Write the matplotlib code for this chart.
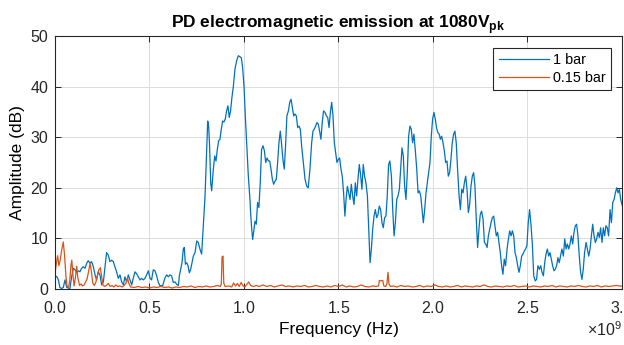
import matplotlib
matplotlib.use("Agg")
import matplotlib.pyplot as plt
from matplotlib.ticker import ScalarFormatter

plt.rcParams.update({
    'font.family': ['Liberation Sans', 'DejaVu Sans'],
    'mathtext.fontset': 'custom',
    'mathtext.rm': 'Liberation Sans',
    'mathtext.bf': 'Liberation Sans:bold',
    'axes.edgecolor': '#262626',
    'axes.linewidth': 0.8,
    'xtick.color': '#262626',
    'ytick.color': '#262626',
    'text.color': '#000000',
})

# spectrum at 1 bar: frequency (GHz) / amplitude (dB)
freq_1bar = [
    0.000, 0.009, 0.018, 0.026, 0.035, 0.044, 0.053, 0.062, 0.079, 0.088,
    0.097, 0.106, 0.115, 0.123, 0.132, 0.141, 0.150, 0.159, 0.168, 0.176,
    0.185, 0.194, 0.203, 0.212, 0.220, 0.229, 0.238, 0.247, 0.256, 0.265,
    0.273, 0.282, 0.291, 0.300, 0.309, 0.317, 0.326, 0.335, 0.344, 0.353,
    0.362, 0.370, 0.379, 0.388, 0.397, 0.406, 0.414, 0.423, 0.432, 0.441,
    0.450, 0.459, 0.467, 0.476, 0.485, 0.494, 0.503, 0.511, 0.520, 0.529,
    0.538, 0.547, 0.556, 0.570, 0.582, 0.591, 0.600, 0.608, 0.617, 0.626,
    0.635, 0.644, 0.653, 0.658, 0.665, 0.672, 0.679, 0.684, 0.690, 0.697,
    0.704, 0.711, 0.718, 0.725, 0.732, 0.741, 0.750, 0.758, 0.767, 0.776,
    0.785, 0.794, 0.802, 0.808, 0.813, 0.818, 0.824, 0.829, 0.838, 0.845,
    0.852, 0.859, 0.866, 0.873, 0.880, 0.887, 0.894, 0.901, 0.908, 0.915,
    0.922, 0.929, 0.936, 0.944, 0.952, 0.961, 0.970, 0.979, 0.986, 0.993,
    1.000, 1.007, 1.014, 1.023, 1.032, 1.035, 1.041, 1.046, 1.053, 1.058,
    1.065, 1.072, 1.079, 1.086, 1.093, 1.101, 1.108, 1.115, 1.122, 1.129,
    1.136, 1.143, 1.150, 1.157, 1.164, 1.171, 1.178, 1.185, 1.192, 1.199,
    1.206, 1.213, 1.220, 1.227, 1.235, 1.242, 1.249, 1.256, 1.263, 1.270,
    1.277, 1.284, 1.291, 1.298, 1.305, 1.314, 1.323, 1.332, 1.340, 1.349,
    1.358, 1.365, 1.372, 1.379, 1.386, 1.393, 1.400, 1.407, 1.414, 1.421,
    1.429, 1.436, 1.443, 1.450, 1.457, 1.464, 1.471, 1.478, 1.485, 1.492,
    1.499, 1.506, 1.513, 1.520, 1.527, 1.534, 1.540, 1.547, 1.554, 1.561,
    1.568, 1.575, 1.582, 1.589, 1.596, 1.603, 1.610, 1.617, 1.624, 1.631,
    1.638, 1.645, 1.653, 1.660, 1.667, 1.674, 1.681, 1.688, 1.695, 1.702,
    1.709, 1.716, 1.723, 1.730, 1.737, 1.744, 1.751, 1.758, 1.765, 1.772,
    1.780, 1.787, 1.794, 1.801, 1.808, 1.815, 1.822, 1.829, 1.836, 1.843,
    1.850, 1.857, 1.864, 1.871, 1.878, 1.885, 1.892, 1.899, 1.906, 1.914,
    1.921, 1.928, 1.935, 1.942, 1.949, 1.956, 1.963, 1.970, 1.977, 1.984,
    1.991, 1.998, 2.005, 2.012, 2.019, 2.026, 2.033, 2.039, 2.046, 2.053,
    2.060, 2.067, 2.074, 2.081, 2.088, 2.095, 2.102, 2.109, 2.116, 2.123,
    2.130, 2.138, 2.145, 2.152, 2.159, 2.166, 2.173, 2.180, 2.187, 2.194,
    2.201, 2.208, 2.215, 2.222, 2.229, 2.236, 2.243, 2.250, 2.257, 2.265,
    2.272, 2.279, 2.286, 2.293, 2.300, 2.307, 2.314, 2.321, 2.328, 2.335,
    2.342, 2.349, 2.356, 2.363, 2.370, 2.377, 2.384, 2.392, 2.399, 2.406,
    2.413, 2.420, 2.427, 2.434, 2.441, 2.448, 2.455, 2.462, 2.469, 2.476,
    2.483, 2.490, 2.497, 2.504, 2.511, 2.519, 2.526, 2.533, 2.541, 2.548,
    2.555, 2.563, 2.570, 2.577, 2.584, 2.591, 2.598, 2.605, 2.612, 2.619,
    2.626, 2.633, 2.640, 2.647, 2.654, 2.661, 2.668, 2.675, 2.682, 2.690,
    2.697, 2.704, 2.711, 2.718, 2.725, 2.732, 2.739, 2.746, 2.753, 2.760,
    2.767, 2.774, 2.781, 2.788, 2.795, 2.802, 2.810, 2.817, 2.824, 2.831,
    2.838, 2.845, 2.852, 2.859, 2.866, 2.873, 2.880, 2.887, 2.894, 2.901,
    2.908, 2.915, 2.922, 2.929, 2.937, 2.944, 2.951, 2.958, 2.965, 2.972,
    2.979, 2.986, 2.993, 3.000, 3.007,
]
amp_1bar = [
    2.4, 2.5, 1.8, 0.3, 0.1, 0.3, 1.8, 0.3, 0.1, 2.4,
    4.1, 3.8, 3.2, 3.6, 3.4, 4.1, 4.4, 4.1, 5.1, 5.6,
    5.1, 5.4, 4.4, 2.8, 1.8, 3.4, 2.8, 0.8, 1.4, 4.4,
    7.2, 6.7, 5.4, 5.7, 5.4, 4.4, 3.4, 2.1, 2.8, 1.4,
    0.8, 2.4, 1.4, 2.8, 1.8, 0.8, 2.1, 3.4, 3.0, 2.4,
    1.8, 2.1, 1.8, 2.1, 2.8, 3.6, 2.1, 1.8, 3.8, 3.6,
    2.6, 1.3, 0.6, 0.7, 2.2, 2.8, 2.4, 2.8, 2.6, 1.3,
    1.4, 0.9, 0.7, 2.6, 3.9, 5.2, 7.9, 8.2, 4.9, 5.2,
    4.6, 3.2, 3.9, 5.2, 6.5, 7.2, 9.5, 9.2, 7.9, 6.9,
    12.5, 18.4, 27.0, 33.2, 32.2, 28.3, 21.0, 19.4, 23.7, 26.3,
    25.3, 27.6, 29.3, 29.6, 31.6, 33.2, 33.0, 33.6, 35.2, 36.2,
    33.9, 35.2, 37.8, 40.1, 43.4, 45.1, 46.1, 45.9, 45.7, 43.7,
    40.1, 34.2, 28.9, 22.3, 17.5, 15.1, 11.8, 9.8, 11.8, 13.4,
    12.8, 17.1, 16.1, 21.0, 27.6, 28.3, 27.3, 25.0, 25.9, 25.3,
    25.3, 23.7, 21.7, 20.7, 21.3, 21.7, 25.0, 28.9, 31.2, 28.6,
    25.6, 23.7, 28.3, 34.2, 35.2, 36.9, 37.5, 35.9, 34.2, 34.6,
    34.2, 31.9, 32.2, 31.6, 28.3, 25.0, 21.7, 20.3, 20.0, 23.7,
    28.9, 31.2, 31.6, 32.2, 32.9, 32.6, 31.2, 29.6, 32.9, 35.2,
    34.9, 34.2, 33.9, 31.9, 34.9, 36.9, 34.2, 28.9, 27.0, 25.0,
    25.6, 25.9, 23.7, 22.3, 19.0, 14.4, 17.7, 20.3, 19.0, 17.7,
    20.7, 18.4, 16.7, 21.0, 18.4, 21.7, 24.6, 22.6, 19.7, 24.6,
    22.3, 21.0, 18.4, 11.8, 5.2, 7.9, 11.8, 14.4, 15.7, 14.1,
    14.7, 16.4, 15.7, 13.1, 12.1, 14.1, 14.4, 18.4, 24.6, 25.3,
    22.3, 15.7, 10.5, 13.1, 17.7, 18.4, 19.7, 23.7, 27.9, 26.3,
    20.3, 17.7, 23.0, 30.2, 32.2, 31.6, 28.9, 30.6, 27.6, 23.7,
    19.0, 19.4, 18.4, 15.7, 13.1, 15.7, 19.0, 21.0, 23.0, 25.0,
    30.2, 33.6, 34.9, 33.6, 31.8, 30.9, 30.6, 29.6, 30.2, 28.9,
    27.3, 25.0, 25.3, 22.3, 23.0, 25.6, 28.9, 30.6, 31.2, 28.9,
    23.7, 18.4, 15.7, 19.7, 19.0, 21.0, 22.3, 19.7, 15.1, 16.7,
    20.3, 22.3, 23.0, 20.3, 13.8, 8.2, 11.8, 14.7, 15.4, 13.8,
    9.2, 8.9, 8.2, 10.5, 11.8, 13.1, 14.1, 14.4, 12.5, 10.5,
    11.2, 9.2, 7.2, 4.6, 2.9, 5.9, 4.6, 7.9, 9.9, 11.5,
    10.5, 11.5, 10.5, 7.2, 6.2, 4.6, 3.3, 4.6, 6.5, 6.9,
    7.5, 7.9, 8.6, 13.1, 15.7, 12.5, 8.6, 2.6, 1.6, 1.9,
    4.6, 3.9, 4.6, 3.3, 2.6, 5.2, 6.9, 7.9, 6.5, 7.2,
    5.9, 4.6, 3.6, 3.9, 4.6, 6.2, 5.2, 6.5, 7.9, 6.5,
    9.9, 7.9, 8.9, 7.9, 8.9, 10.5, 8.9, 11.2, 12.5, 12.8,
    10.5, 6.5, 3.3, 1.9, 3.9, 7.2, 9.2, 7.9, 6.5, 7.9,
    10.5, 12.8, 10.5, 9.2, 9.9, 11.2, 10.2, 12.1, 9.2, 12.1,
    10.5, 12.5, 12.1, 10.5, 15.7, 13.1, 17.1, 17.7, 19.0, 20.0,
    19.0, 19.7, 17.7, 16.7, 15.7,
]

# spectrum at 0.15 bar: frequency (GHz) / amplitude (dB)
freq_015bar = [
    0.000, 0.007, 0.014, 0.021, 0.028, 0.036, 0.044, 0.051, 0.058, 0.064,
    0.072, 0.078, 0.084, 0.089, 0.095, 0.101, 0.108, 0.115, 0.121, 0.130,
    0.138, 0.146, 0.154, 0.162, 0.170, 0.178, 0.186, 0.193, 0.200, 0.208,
    0.216, 0.224, 0.232, 0.240, 0.247, 0.254, 0.262, 0.272, 0.282, 0.292,
    0.302, 0.312, 0.322, 0.333, 0.344, 0.355, 0.366, 0.376, 0.384, 0.391,
    0.400, 0.420, 0.440, 0.460, 0.480, 0.500, 0.520, 0.540, 0.560, 0.580,
    0.600, 0.620, 0.640, 0.660, 0.680, 0.700, 0.720, 0.740, 0.760, 0.780,
    0.800, 0.820, 0.840, 0.860, 0.875, 0.880, 0.884, 0.889, 0.893, 0.900,
    0.920, 0.935, 0.945, 0.955, 0.965, 0.975, 0.985, 0.995, 1.005, 1.015,
    1.025, 1.035, 1.050, 1.065, 1.080, 1.100, 1.120, 1.140, 1.160, 1.180,
    1.200, 1.220, 1.240, 1.260, 1.280, 1.300, 1.320, 1.340, 1.360, 1.380,
    1.400, 1.420, 1.440, 1.460, 1.480, 1.500, 1.520, 1.540, 1.560, 1.580,
    1.600, 1.620, 1.640, 1.660, 1.680, 1.700, 1.712, 1.716, 1.724, 1.734,
    1.740, 1.750, 1.756, 1.762, 1.767, 1.775, 1.790, 1.810, 1.830, 1.850,
    1.870, 1.890, 1.910, 1.930, 1.950, 1.970, 1.990, 2.010, 2.030, 2.050,
    2.070, 2.090, 2.110, 2.130, 2.150, 2.170, 2.190, 2.210, 2.230, 2.250,
    2.270, 2.290, 2.310, 2.330, 2.350, 2.370, 2.390, 2.410, 2.430, 2.450,
    2.470, 2.490, 2.510, 2.530, 2.550, 2.570, 2.590, 2.610, 2.630, 2.650,
    2.670, 2.690, 2.710, 2.730, 2.750, 2.770, 2.790, 2.810, 2.830, 2.850,
    2.870, 2.890, 2.910, 2.930, 2.950, 2.970, 2.990, 3.010,
]
amp_015bar = [
    3.0, 5.0, 6.6, 4.6, 5.8, 7.8, 9.3, 6.5, 2.5, 0.5,
    0.4, 1.5, 4.5, 5.7, 2.8, 0.6, 2.2, 4.5, 2.2, 0.7,
    1.0, 0.6, 0.8, 1.4, 2.0, 3.5, 5.1, 3.4, 1.2, 0.7,
    1.3, 2.6, 3.8, 4.2, 2.4, 0.8, 0.5, 0.7, 1.1, 0.5,
    0.7, 0.4, 0.8, 0.5, 0.6, 0.4, 0.7, 1.2, 2.2, 1.1,
    0.4, 0.3, 0.5, 0.3, 0.4, 0.2, 0.4, 0.3, 0.5, 0.3,
    0.4, 0.2, 0.4, 0.3, 0.5, 0.4, 0.6, 0.3, 0.5, 0.4,
    0.6, 0.4, 0.5, 0.7, 0.5, 1.0, 6.3, 6.5, 1.2, 0.5,
    0.6, 0.4, 1.2, 0.6, 1.1, 0.5, 1.3, 0.6, 0.4, 0.9,
    1.4, 0.7, 0.5, 0.7, 0.5, 0.8, 0.5, 0.7, 0.4, 0.6,
    0.8, 0.5, 0.6, 0.4, 0.6, 0.5, 0.7, 0.4, 0.5, 0.7,
    0.5, 0.4, 0.6, 0.4, 0.7, 0.5, 0.8, 0.4, 0.6, 0.4,
    0.5, 0.8, 0.5, 0.4, 0.6, 0.5, 0.6, 1.7, 1.6, 1.7,
    0.6, 0.5, 1.0, 3.3, 1.0, 0.5, 0.6, 0.4, 0.7, 0.5,
    0.6, 0.4, 0.5, 0.7, 0.4, 0.6, 0.5, 0.8, 0.5, 0.4,
    0.6, 0.4, 0.5, 0.7, 0.4, 0.6, 0.5, 0.4, 0.6, 0.5,
    0.8, 0.5, 0.4, 0.6, 0.5, 0.4, 0.6, 0.5, 0.7, 0.4,
    0.5, 0.6, 0.4, 0.6, 0.5, 0.4, 0.6, 0.5, 0.7, 0.4,
    0.6, 0.5, 0.4, 0.6, 0.5, 0.7, 0.5, 0.4, 0.6, 0.5,
    0.7, 0.4, 0.6, 0.5, 0.6, 0.7, 0.6, 0.5,
]

x_ticks = [0, 0.5, 1, 1.5, 2, 2.5, 3]
y_ticks = [0, 10, 20, 30, 40, 50]

fig = plt.figure(figsize=(6.24, 3.45), dpi=100)
ax = fig.add_axes([0.0881, 0.1623, 0.9087, 0.7333])

ax.plot([f * 1e9 for f in freq_1bar], amp_1bar, color='#0072BD', lw=0.9, label='1 bar')
ax.plot([f * 1e9 for f in freq_015bar], amp_015bar, color='#D95319', lw=0.9, label='0.15 bar')

ax.set_xlim(0, 3e9)
ax.set_ylim(0, 50)
ax.set_xticks([t * 1e9 for t in x_ticks])
ax.set_yticks(y_ticks)

fmt = ScalarFormatter(useMathText=True)
fmt.set_powerlimits((0, 0))
ax.xaxis.set_major_formatter(fmt)
ax.xaxis.get_offset_text().set_fontsize(11.5)

ax.grid(True, color='#dcdcdc', lw=0.7)
ax.set_axisbelow(True)
ax.tick_params(direction='in', top=True, right=True, length=4, width=0.7,
               labelsize=11.5, pad=5)
ax.tick_params(axis='x', pad=8)

ax.set_xlabel('Frequency (Hz)', fontsize=12.5, labelpad=4)
ax.set_ylabel('Amplitude (dB)', fontsize=12.5, labelpad=4)
ax.set_title(r'PD electromagnetic emission at 1080V$_\mathbf{pk}$',
             fontsize=12.5, fontweight='bold', pad=6)

leg = ax.legend(loc='upper right', bbox_to_anchor=(0.981, 0.953), fontsize=10.4,
                frameon=True, fancybox=False, framealpha=1, edgecolor='#262626',
                handlelength=3.5, handletextpad=0.3, labelspacing=0.3,
                borderpad=0.35, borderaxespad=0)
leg.get_frame().set_linewidth(0.8)

fig.savefig('out.png', dpi=100)
